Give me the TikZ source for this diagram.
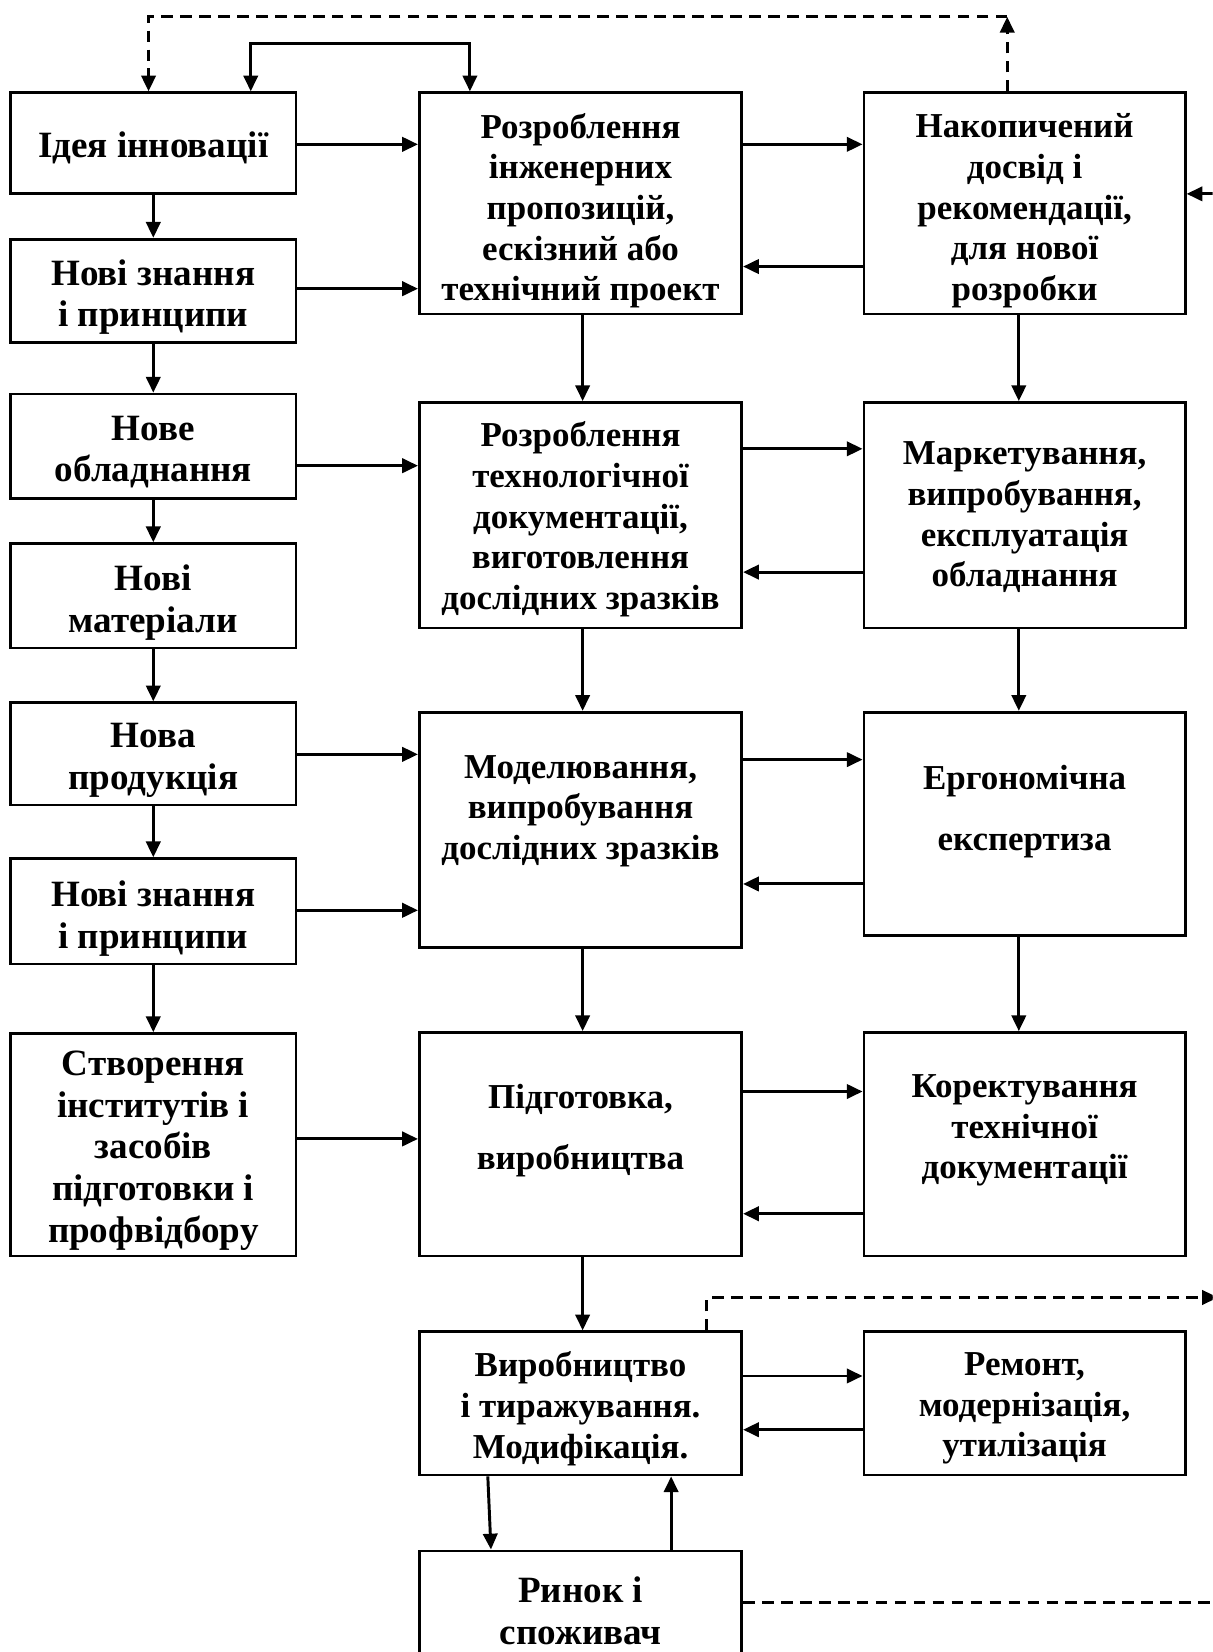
\documentclass[tikz,border=0pt]{standalone}
\usepackage{fontspec}
\setmainfont{Liberation Serif}
\usetikzlibrary{arrows.meta,fit}
\begin{document}
\begin{tikzpicture}[x=0.5pt,y=-0.5pt,
  box/.style={draw, line width=1.3pt, inner sep=0pt, rectangle},
  txt/.style={align=center, inner sep=0pt, yshift=-1.5pt,
    font=\bfseries\fontsize{16.6pt}{19.3pt}\selectfont},
  big/.style={font=\bfseries\fontsize{17.6pt}{19.8pt}\selectfont},
  loose/.style={font=\bfseries\fontsize{16.6pt}{29pt}\selectfont},
  arr/.style={line width=1.4pt, -{Triangle[length=7.5pt,width=6.8pt]}},
  dsh/.style={arr, dash pattern=on 5.5pt off 3.5pt},
  dshline/.style={line width=1.4pt, dash pattern=on 5.5pt off 3.5pt},
]
\useasboundingbox (0,0) rectangle (1151,1568);
\fill[white] (0,0) rectangle (1151,1568);
\clip (0,0) rectangle (1151,1568);

% left column
\node[box, fit={(10,88) (281,184)}] (L1) {};
\node[box, fit={(10,227) (281,325)}] (L2) {};
\node[box, fit={(10,374) (281,473)}] (L3) {};
\node[box, fit={(10,516) (281,615)}] (L4) {};
\node[box, fit={(10,667) (281,764)}] (L5) {};
\node[box, fit={(10,815) (281,915)}] (L6) {};
\node[box, fit={(10,981) (281,1192)}] (L7) {};

\node[txt, big] (L1t) at (145.5,137) {Ідея інновації};
\node[txt, big] (L2t) at (145.5,279) {Нові знання\\і принципи};
\node[txt, big] (L3t) at (145.5,426) {Нове\\обладнання};
\node[txt, big] (L4t) at (145.5,569) {Нові\\матеріали};
\node[txt, big] (L5t) at (145.5,719) {Нова\\продукція};
\node[txt, big] (L6t) at (145.5,869) {Нові знання\\і принципи};
\node[txt, big] (L7t) at (145.5,1089) {Створення\\інститутів і\\засобів\\підготовки і\\профвідбору};

% middle column
\node[box, fit={(398,88) (704,298)}] (A) {};
\node[box, fit={(398,382) (704,596)}] (B) {};
\node[box, fit={(398,676) (704,899)}] (C) {};
\node[box, fit={(398,980) (704,1192)}] (D) {};
\node[box, fit={(398,1264) (704,1400)}] (E) {};
\node[box, fit={(398,1472) (704,1620)}] (F) {};

\node[txt] (At) at (551,197) {Розроблення\\інженерних\\пропозицій,\\ескізний або\\технічний проект};
\node[txt] (Bt) at (551,490) {Розроблення\\технологічної\\документації,\\виготовлення\\дослідних зразків};
\node[txt] (Ct) at (551,767) {Моделювання,\\випробування\\дослідних зразків};
\node[txt, loose] (Dt) at (551,1070) {Підготовка,\\виробництва};
\node[txt] (Et) at (551,1334) {Виробництво\\і тиражування.\\Модифікація.};
\node[txt, big] (Ft) at (551,1526) {Ринок і\\споживач};

% right column
\node[box, fit={(820,88) (1125,298)}] (G) {};
\node[box, fit={(820,382) (1125,596)}] (H) {};
\node[box, fit={(820,676) (1125,888)}] (I) {};
\node[box, fit={(820,980) (1125,1192)}] (J) {};
\node[box, fit={(820,1264) (1125,1400)}] (K) {};

\node[txt] (Gt) at (972.5,197) {Накопичений\\досвід і\\рекомендації,\\для нової\\розробки};
\node[txt] (Ht) at (972.5,488) {Маркетування,\\випробування,\\експлуатація\\обладнання};
\node[txt, loose] (It) at (972.5,767) {Ергономічна\\експертиза};
\node[txt] (Jt) at (972.5,1070) {Коректування\\технічної\\документації};
\node[txt] (Kt) at (972.5,1334) {Ремонт,\\модернізація,\\утилізація};

% left column chain
\draw[arr] (L1.south) -- (L2.north);
\draw[arr] (L2.south) -- (L3.north);
\draw[arr] (L3.south) -- (L4.north);
\draw[arr] (L4.south) -- (L5.north);
\draw[arr] (L5.south) -- (L6.north);
\draw[arr] (L6.south) -- (L7.north);

% left column into middle column
\draw[arr] (L1.east |- 0,137) -- (A.west |- 0,137);
\draw[arr] (L2.east |- 0,274) -- (A.west |- 0,274);
\draw[arr] (L3.east |- 0,442) -- (B.west |- 0,442);
\draw[arr] (L5.east |- 0,716) -- (C.west |- 0,716);
\draw[arr] (L6.east |- 0,864) -- (C.west |- 0,864);
\draw[arr] (L7.east |- 0,1081) -- (D.west |- 0,1081);

% middle column chain
\draw[arr] (A.south -| 553,0) -- (B.north -| 553,0);
\draw[arr] (B.south -| 553,0) -- (C.north -| 553,0);
\draw[arr] (C.south -| 553,0) -- (D.north -| 553,0);
\draw[arr] (D.south -| 553,0) -- (E.north -| 553,0);
\draw[arr] (E.south -| 463,0) -- (F.north -| 466,0);
\draw[arr] (F.north -| 637,0) -- (E.south -| 637,0);

% right column chain
\draw[arr] (G.south -| 967,0) -- (H.north -| 967,0);
\draw[arr] (H.south -| 967,0) -- (I.north -| 967,0);
\draw[arr] (I.south -| 967,0) -- (J.north -| 967,0);

% exchanges between middle and right columns
\draw[arr] (A.east |- 0,137) -- (G.west |- 0,137);
\draw[arr] (G.west |- 0,253) -- (A.east |- 0,253);
\draw[arr] (B.east |- 0,426) -- (H.west |- 0,426);
\draw[arr] (H.west |- 0,543) -- (B.east |- 0,543);
\draw[arr] (C.east |- 0,721) -- (I.west |- 0,721);
\draw[arr] (I.west |- 0,839) -- (C.east |- 0,839);
\draw[arr] (D.east |- 0,1036) -- (J.west |- 0,1036);
\draw[arr] (J.west |- 0,1152) -- (D.east |- 0,1152);
\draw[arr] (E.east |- 0,1306) -- (K.west |- 0,1306);
\draw[arr] (K.west |- 0,1357) -- (E.east |- 0,1357);

% solid loop over the top
\draw[line width=1.4pt, {Triangle[length=7.5pt,width=6.8pt]}-{Triangle[length=7.5pt,width=6.8pt]}]
  (L1.north -| 238,0) -- (238,41) -- (446,41) -- (A.north -| 446,0);

% dashed feedback over the top
\coordinate (topR) at (956,16);
\coordinate (topL) at (141,16);
\draw[dsh] (G.north -| topR) -- (topR);
\draw[dsh] (topR) -- (topL) -- (L1.north -| topL);

% dashed links leaving on the right
\coordinate (inG) at (1151,184);
\coordinate (outE) at (1156,1231.5);
\coordinate (outF) at (1151,1521);
\draw[dsh] (inG) -- (G.east |- inG);
\draw[dsh] (E.north -| 671,0) -- (671,1231.5) -- (outE);
\draw[dshline] (F.east |- outF) -- (outF);
\end{tikzpicture}
\end{document}
